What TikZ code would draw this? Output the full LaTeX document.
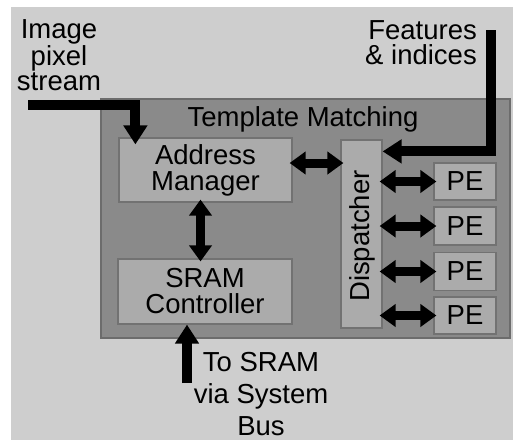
\documentclass[tikz,border=0pt]{standalone}
\usepackage{fontspec}
\setmainfont{Liberation Sans}
\usetikzlibrary{arrows.meta,calc}

\definecolor{bgGray}{HTML}{CECECE}
\definecolor{outerGray}{HTML}{8A8A8A}
\definecolor{outerEdge}{HTML}{6C6C6C}
\definecolor{blockGray}{HTML}{ABABAB}
\definecolor{blockEdge}{HTML}{727272}

\tikzset{
  lbl/.style={font=\fontsize{27.5pt}{25pt}\selectfont, text=black, inner sep=0pt, align=center},
  block/.style={draw=blockEdge, line width=1.2pt, fill=blockGray, inner sep=0pt,
    font=\fontsize{27.5pt}{26pt}\selectfont, align=center},
  bus/.style={line width=10pt, black, -{Triangle[length=19pt,width=23pt]}},
  dbl/.style={line width=9pt, black, {Triangle[length=16pt,width=22pt]}-{Triangle[length=16pt,width=22pt]}, shorten <=-3pt, shorten >=-3pt},
}

\begin{document}
\begin{tikzpicture}[x=1pt,y=-1pt]
  \useasboundingbox (0,0) rectangle (513,440);
  \fill[white] (0,0) rectangle (513,440);
  \fill[bgGray] (11,7) rectangle (513,440);

  % enclosing template matching unit
  \node[draw=outerEdge, line width=1.5pt, fill=outerGray, minimum width=409pt, minimum height=239pt, inner sep=0pt]
    (tm) at (305.5,218.5) {};
  \node[lbl] (tmlabel) at (303,119) {Template Matching};

  % internal blocks
  \node[block, minimum width=173pt, minimum height=64pt] (am) at (205.5,170) {Address\\Manager};
  \node[block, minimum width=174pt, minimum height=65pt] (sram) at (205,291.5) {SRAM\\Controller};
  \node[block, minimum width=41pt, minimum height=188pt] (disp) at (361.5,234) {};
  \node[lbl, rotate=90] (displabel) at (362,236) {Dispatcher};

  \node[block, minimum width=62pt, minimum height=37pt] (pe1) at (465,181.5) {PE};
  \node[block, minimum width=62pt, minimum height=38pt] (pe2) at (465,226) {PE};
  \node[block, minimum width=62pt, minimum height=38pt] (pe3) at (465,271.5) {PE};
  \node[block, minimum width=62pt, minimum height=37pt] (pe4) at (465,315.5) {PE};

  % outside labels
  \node[lbl] (imglabel) at (59,55) {Image\\pixel\\stream};
  \node[lbl, align=right, anchor=east] (featlabel) at (477,43) {Features\\\& indices};
  \node[lbl, font=\fontsize{27.5pt}{32pt}\selectfont] (buslabel) at (261,394) {To SRAM\\via System\\Bus};

  % free ends of the external connections
  \coordinate (imgstart) at (28,105);
  \coordinate (featstart) at (491,30);
  \coordinate (busstart) at (187,383);

  % external connections
  \draw[bus, shorten >=-7pt] (imgstart) -| ([xshift=17pt]am.north west);
  \draw[bus] (featstart) |- ([yshift=-12pt]disp.north east);
  \draw[bus] (busstart) -- (busstart |- sram.south);

  % internal connections
  \draw[dbl] ([yshift=7pt]am.east) -- ([yshift=7pt]am.east -| disp.west);
  \draw[dbl] ([xshift=-5pt]am.south) -- ([xshift=-5pt]am.south |- sram.north);
  \foreach \p in {pe1,pe2,pe3,pe4}
    \draw[dbl] (\p.west -| disp.east) -- (\p.west);
\end{tikzpicture}
\end{document}
